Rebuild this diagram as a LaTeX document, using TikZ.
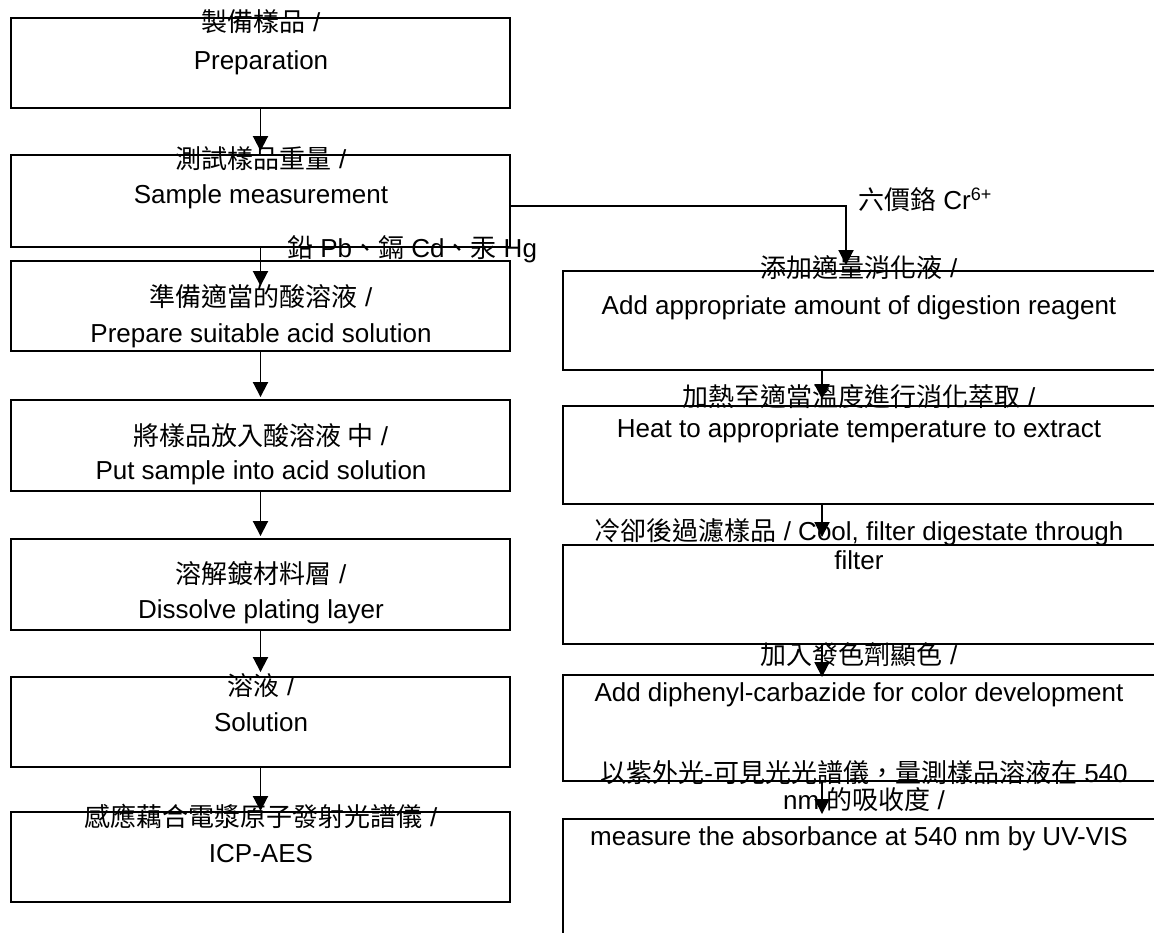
\documentclass[tikz,border=0pt]{standalone}
\usepackage{fontspec}
\setmainfont{Liberation Sans}
\newfontfamily\cjk{Noto Sans CJK TC}
\usetikzlibrary{arrows.meta}
\begin{document}
\begin{tikzpicture}[x=1pt,y=-1pt,
  box/.style={draw=black, line width=1.9pt, rectangle, inner sep=0pt},
  lbox/.style={box, minimum width=499pt},
  rbox/.style={box, minimum width=592pt},
  txt/.style={inner sep=0pt, anchor=base, font=\fontsize{26}{30}\selectfont},
  flow/.style={draw=black, line width=1.9pt, -{Triangle[width=15pt,length=15pt]}}
]
\useasboundingbox (0,0) rectangle (1154,933);
\clip (0,0) rectangle (1154,933);

% left column boxes
\node[lbox, minimum height=90pt] (b1) at (260.5,63) {};
\node[lbox, minimum height=92pt] (b2) at (260.5,201) {};
\node[lbox, minimum height=90pt] (b3) at (260.5,306) {};
\node[lbox, minimum height=91pt] (b4) at (260.5,445.5) {};
\node[lbox, minimum height=91pt] (b5) at (260.5,584.5) {};
\node[lbox, minimum height=90pt] (b6) at (260.5,722) {};
\node[lbox, minimum height=90pt] (b7) at (260.5,857) {};

% right column boxes
\node[rbox, minimum height=99pt] (r1) at (859,320.5) {};
\node[rbox, minimum height=98pt] (r2) at (859,455) {};
\node[rbox, minimum height=99pt] (r3) at (859,594.5) {};
\node[rbox, minimum height=106pt] (r4) at (859,728) {};
\node[rbox, minimum height=121pt] (r5) at (859,879.5) {};

% left texts
\node[txt] (t1a) at (261,31.5) {{\cjk 製備樣品} /};
\node[txt] (t1b) at (261,69.5) {Preparation};
\node[txt] (t2a) at (261,168.5) {{\cjk 測試樣品重量} /};
\node[txt] (t2b) at (261,203.5) {Sample measurement};
\node[txt] (t3a) at (261,306.5) {{\cjk 準備適當的酸溶液} /};
\node[txt] (t3b) at (261,342.5) {Prepare suitable acid solution};
\node[txt] (t4a) at (261,445.5) {{\cjk 將樣品放入酸溶液 中} /};
\node[txt] (t4b) at (261,479.5) {Put sample into acid solution};
\node[txt] (t5a) at (261,583.5) {{\cjk 溶解鍍材料層} /};
\node[txt] (t5b) at (261,618.5) {Dissolve plating layer};
\node[txt] (t6a) at (261,695.5) {{\cjk 溶液} /};
\node[txt] (t6b) at (261,731.5) {Solution};
\node[txt] (t7a) at (261,826.5) {{\cjk 感應藕合電漿原子發射光譜儀} /};
\node[txt] (t7b) at (261,862.5) {ICP-AES};

% right texts
\node[txt] (q1a) at (859,277.5) {{\cjk 添加適量消化液} /};
\node[txt] (q1b) at (859,314.5) {Add appropriate amount of digestion reagent};
\node[txt] (q2a) at (859,406.5) {{\cjk 加熱至適當溫度進行消化萃取} /};
\node[txt] (q2b) at (859,437.5) {Heat to appropriate temperature to extract};
\node[txt] (q3a) at (859,540.5) {{\cjk 冷卻後過濾樣品} / Cool, filter digestate through};
\node[txt] (q3b) at (859,569.5) {filter};
\node[txt] (q4a) at (859,664.5) {{\cjk 加入發色劑顯色} /};
\node[txt] (q4b) at (859,701.5) {Add diphenyl-carbazide for color development};
\node[txt] (q5a) at (864,782.5) {{\cjk 以紫外光}-{\cjk 可見光光譜儀，量測樣品溶液在} 540};
\node[txt] (q5b) at (864,809.5) {nm {\cjk 的吸收度} /};
\node[txt] (q5c) at (859,845.5) {measure the absorbance at 540 nm by UV-VIS};

% branch labels
\node[txt] (lpb) at (412,257.5) {{\cjk 鉛} Pb{\cjk 、鎘} Cd{\cjk 、汞} Hg};
\node[txt, anchor=base west] (lcr) at (858,209.5) {{\cjk 六價鉻} Cr\textsuperscript{\fontsize{18}{20}\selectfont 6+}};

% connectors left
\draw[flow] (b1.south) -- ([yshift=3pt]b2.north);
\draw[flow] (b2.south) -- ([yshift=-26pt]b3.north);
\draw[flow] (b3.south) -- ([yshift=2pt]b4.north);
\draw[flow] (b4.south) -- ([yshift=2pt]b5.north);
\draw[flow] (b5.south) -- ([yshift=4pt]b6.north);
\draw[flow] (b6.south) -- (b7.north);

% branch to right
\draw[flow] ([yshift=-5pt]b2.east) -| ([xshift=-13pt,yshift=5pt]r1.north);

% connectors right
\draw[flow] ([xshift=-37pt]r1.south) -- ([xshift=-37pt,yshift=6pt]r2.north);
\draw[flow] ([xshift=-37pt]r2.south) -- ([xshift=-37pt,yshift=7pt]r3.north);
\draw[flow] ([xshift=-37pt]r3.south) -- ([xshift=-37pt,yshift=-3pt]r4.north);
\draw[flow] ([xshift=-37pt]r4.south) -- ([xshift=-37pt,yshift=4pt]r5.north);
\end{tikzpicture}
\end{document}
